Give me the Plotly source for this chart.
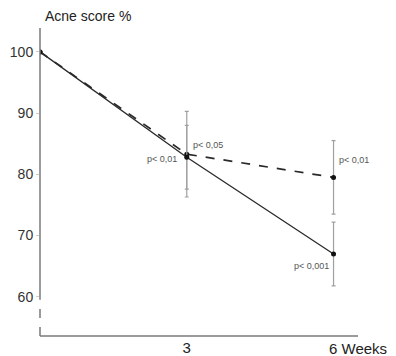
import plotly.graph_objects as go

weeks = [0, 3, 6]
solid_vals = [100, 82.8, 67.0]
solid_err = [0, 5.2, 5.2]
dashed_vals = [100, 83.3, 79.5]
dashed_err = [0, 7.0, 6.0]
y_ticks = [60, 70, 80, 90, 100]
p_labels = ["p< 0,01", "p< 0,05", "p< 0,01", "p< 0,001"]

line_col = "#2a2a2a"
err_col = "#a0a0a0"
axis_col = "#7a7a7a"

fig = go.Figure()
fig.add_trace(go.Scatter(
    x=weeks, y=dashed_vals, mode="lines+markers",
    line=dict(color=line_col, width=1.7, dash="dash"),
    marker=dict(color="#111", size=5),
    error_y=dict(type="data", array=dashed_err, visible=True,
                 color=err_col, thickness=1.2, width=2),
))
fig.add_trace(go.Scatter(
    x=weeks, y=solid_vals, mode="lines+markers",
    line=dict(color=line_col, width=1.3),
    marker=dict(color="#111", size=5),
    error_y=dict(type="data", array=solid_err, visible=True,
                 color=err_col, thickness=1.2, width=2),
))

ymin, ymax = 53.6, 103.9
# axes drawn as shapes (broken y-axis below 60)
fig.add_shape(type="line", xref="paper", yref="y", x0=0, x1=0, y0=59.5, y1=ymax,
              line=dict(color=axis_col, width=1.5))
fig.add_shape(type="line", xref="paper", yref="y", x0=0, x1=0, y0=ymin, y1=59.0,
              line=dict(color=axis_col, width=1.5, dash="dash"))
fig.add_shape(type="line", xref="paper", yref="paper", x0=0, x1=1, y0=0, y1=0,
              line=dict(color=axis_col, width=1.5))

ann_font = dict(family="Liberation Sans", size=9, color="#555")
fig.add_annotation(x=weeks[1], y=solid_vals[1], text=p_labels[0], showarrow=False,
                   xanchor="right", yanchor="middle", xshift=-8, yshift=-2, font=ann_font)
fig.add_annotation(x=weeks[1], y=dashed_vals[1], text=p_labels[1], showarrow=False,
                   xanchor="left", yanchor="middle", xshift=4, yshift=9, font=ann_font)
fig.add_annotation(x=weeks[2], y=dashed_vals[2], text=p_labels[2], showarrow=False,
                   xanchor="left", yanchor="middle", xshift=3, yshift=17, font=ann_font)
fig.add_annotation(x=weeks[2], y=solid_vals[2], text=p_labels[3], showarrow=False,
                   xanchor="right", yanchor="middle", xshift=-3, yshift=-12, font=ann_font)

fig.add_annotation(xref="paper", yref="paper", x=0, y=1, text="Acne score %",
                   showarrow=False, xanchor="left", yanchor="bottom", xshift=3, yshift=2,
                   font=dict(family="Liberation Sans", size=14, color="#222"))
fig.add_annotation(x=weeks[2], yref="paper", y=0, text="6 Weeks", showarrow=False,
                   xanchor="left", yanchor="top", xshift=-7, yshift=-2,
                   font=dict(family="Liberation Sans", size=15, color="#222"))

# page body has an 8px margin, so the figure is sized to fill the rest of the window
fig.update_layout(
    width=388, height=348,
    margin=dict(l=32, r=38, t=20, b=20, autoexpand=False),
    paper_bgcolor="white", plot_bgcolor="white",
    showlegend=False,
    xaxis=dict(range=[0, 6.5], tickvals=[3], ticktext=["3"], showgrid=False,
               zeroline=False, showline=False, ticks="", ticklabelstandoff=1,
               automargin=False,
               tickfont=dict(family="Liberation Sans", size=15, color="#222")),
    yaxis=dict(range=[ymin, ymax], tickvals=y_ticks, showgrid=False, zeroline=False,
               showline=False, ticks="outside", ticklen=3, tickcolor="#ccc",
               automargin=False,
               tickfont=dict(family="Liberation Sans", size=14, color="#333")),
)
fig.write_html("out.html")
